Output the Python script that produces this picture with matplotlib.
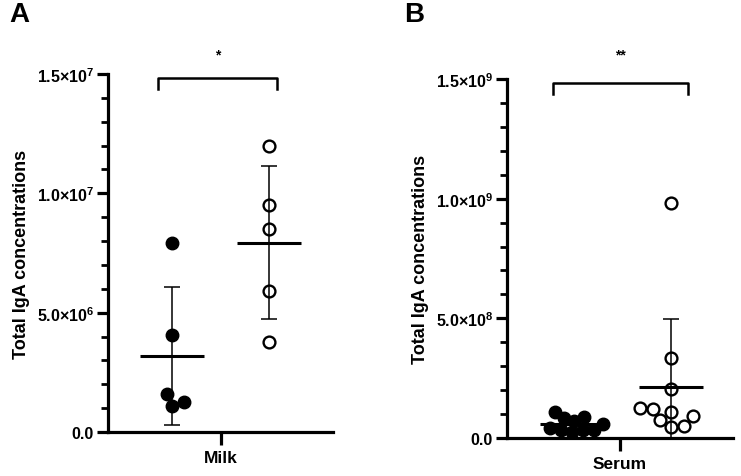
import numpy as np
import matplotlib
matplotlib.use("Agg")
from matplotlib import pyplot as plt

plt.rcParams['font.family'] = ['Liberation Sans', 'DejaVu Sans']
plt.rcParams['font.weight'] = 'bold'
plt.rcParams['mathtext.fontset'] = 'custom'
plt.rcParams['mathtext.rm'] = 'Liberation Sans:bold'
plt.rcParams['mathtext.it'] = 'Liberation Sans:bold'
plt.rcParams['mathtext.bf'] = 'Liberation Sans:bold'
plt.rcParams['mathtext.default'] = 'rm'

# panel A - milk
milk_filled = [7.9e6, 4.06e6, 1.59e6, 1.09e6, 1.25e6]
milk_open = [12.0e6, 9.5e6, 8.49e6, 5.9e6, 3.77e6]
milk_ticks = [0, 5e6, 1e7, 1.5e7]
milk_ticklabels = ['0.0', '5.0×10$^{6}$', '1.0×10$^{7}$', '1.5×10$^{7}$']

# panel B - serum
serum_filled = [0.040e9, 0.070e9, 0.035e9, 0.035e9, 0.085e9,
                0.110e9, 0.088e9, 0.025e9, 0.035e9, 0.060e9]
serum_open = [0.982e9, 0.333e9, 0.205e9, 0.125e9, 0.110e9,
              0.091e9, 0.121e9, 0.076e9, 0.051e9, 0.047e9]
serum_ticks = [0, 5e8, 1e9, 1.5e9]
serum_ticklabels = ['0.0', '5.0×10$^{8}$', '1.0×10$^{9}$', '1.5×10$^{9}$']

W, H, DPI = 7.41, 4.77, 100
fig = plt.figure(figsize=(W, H), dpi=DPI)


def swarm(vals, ymax, ax_w_px, ax_h_px, d=13.0):
    # simple beeswarm, returns x offsets in axes units
    ypx = np.array(vals) / ymax * ax_h_px
    order = np.argsort(ypx)
    xs = np.zeros(len(vals))
    placed = []
    for i in order:
        y = ypx[i]
        cands = [0.0]
        for j in placed:
            dy = abs(y - ypx[j])
            if dy < d:
                dx = np.sqrt(d * d - dy * dy)
                cands += [xs[j] + dx, xs[j] - dx]
        cands.sort(key=lambda c: (abs(c), -c))
        for c in cands:
            ok = all((c - xs[j]) ** 2 + (y - ypx[j]) ** 2 >= d * d - 1e-6 for j in placed)
            if ok:
                xs[i] = c
                break
        placed.append(i)
    return xs / ax_w_px


def panel(rect, filled, opened, ymax, ticks, ticklabels, xlabel, stars,
          centers, bracket_x, bracket_y, star_y, dfill):
    ax = fig.add_axes(rect)
    ax_w = rect[2] * W * DPI
    ax_h = rect[3] * H * DPI
    half = 0.142
    for k, (vals, c) in enumerate(zip([filled, opened], centers)):
        vals = np.array(vals)
        m = vals.mean()
        sd = vals.std(ddof=1)
        ax.errorbar([c], [m], yerr=[[min(sd, m)], [sd]], fmt='none', ecolor='black',
                    elinewidth=1.1, capsize=6, capthick=1.1, zorder=2)
        ax.plot([c - half, c + half], [m, m], color='black', lw=2.2, zorder=2,
                solid_capstyle='butt')
        if k == 0:
            xo = c + swarm(vals, ymax, ax_w, ax_h, d=dfill)
            ax.plot(xo, vals, 'o', ms=9, color='black', mec='black', zorder=3, clip_on=False)
        else:
            xo = c + swarm(vals, ymax, ax_w, ax_h)
            ax.plot(xo, vals, 'o', ms=8.5, mfc='none', mec='black', mew=1.7, zorder=3,
                    clip_on=False)
    ax.set_xlim(0, 1)
    ax.set_ylim(0, ymax)
    ax.set_yticks(ticks)
    ax.set_yticklabels(ticklabels)
    ax.set_yticks(np.linspace(0, ymax, 16), minor=True)
    ax.set_xticks([0.5])
    ax.set_xticklabels([xlabel])
    for s in ['top', 'right']:
        ax.spines[s].set_visible(False)
    for s in ['left', 'bottom']:
        ax.spines[s].set_linewidth(2.3)
    ax.tick_params(axis='y', which='major', length=8, width=2.3, labelsize=11.5, pad=2)
    ax.tick_params(axis='y', which='minor', length=5, width=2.0)
    ax.tick_params(axis='x', which='major', length=9, width=2.3, labelsize=12.5, pad=4)
    ax.set_ylabel('Total IgA concentrations', fontsize=13, fontweight='bold', labelpad=5)
    # significance bracket
    bx0, bx1 = bracket_x
    by, bd = bracket_y
    ax.plot([bx0, bx0, bx1, bx1], [by - bd, by, by, by - bd], color='black', lw=1.8,
            clip_on=False, transform=ax.get_xaxis_transform())
    ax.text((bx0 + bx1) / 2, star_y, stars, transform=ax.transAxes, ha='center',
            va='center', fontsize=10)
    return ax


axA = panel([108 / 741, 44 / 477, 225 / 741, 358 / 477], milk_filled, milk_open, 1.5e7,
            milk_ticks, milk_ticklabels, 'Milk', '*', [0.284, 0.716],
            (0.222, 0.751), (0.989, 0.031), 1.055, 13.0)
axB = panel([507 / 741, 38 / 477, 226 / 741, 359 / 477], serum_filled, serum_open, 1.5e9,
            serum_ticks, serum_ticklabels, 'Serum', '**', [0.288, 0.726],
            (0.204, 0.80), (0.99, 0.033), 1.068, 11.0)

fig.text(9 / 741, 1 - 15 / 477, 'A', fontsize=20, fontweight='bold', va='center')
fig.text(404 / 741, 1 - 15 / 477, 'B', fontsize=20, fontweight='bold', va='center')

fig.savefig('out.png', dpi=DPI)
